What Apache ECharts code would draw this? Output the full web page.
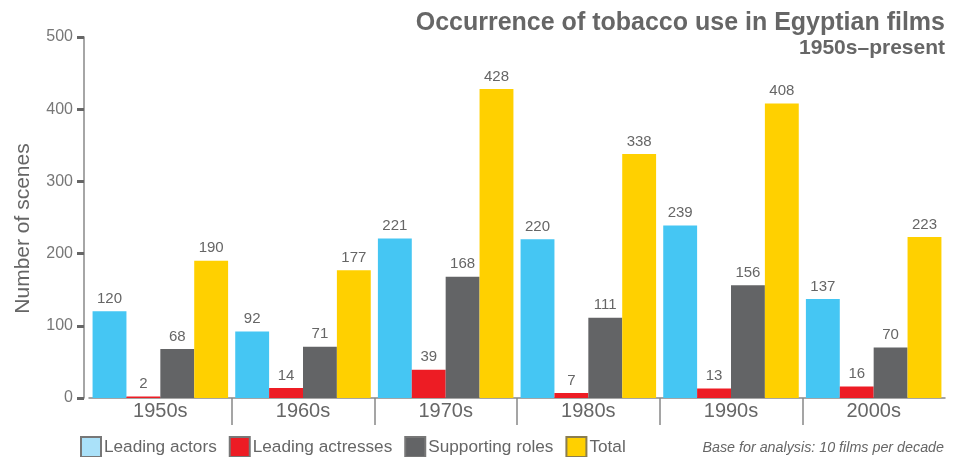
<!DOCTYPE html>
<html>
<head>
<meta charset="utf-8">
<script src="https://cdn.jsdelivr.net/npm/echarts@6/dist/echarts.min.js"></script>
<style>
  html, body { margin: 0; padding: 0; background: #fff; }
  #chart { width: 954px; height: 457px; }
</style>
</head>
<body>
<div id="chart"></div>
<script>
const decades = ['1950s', '1960s', '1970s', '1980s', '1990s', '2000s'];
const leadingActors = [120, 92, 221, 220, 239, 137];
const leadingActresses = [2, 14, 39, 7, 13, 16];
const supportingRoles = [68, 71, 168, 111, 156, 70];
const total = [190, 177, 428, 338, 408, 223];
const yTicks = { min: 0, max: 500, interval: 100 };

const textGrey = '#666';
const axisGrey = '#888';
const font = '"Liberation Sans", Arial, sans-serif';

const chart = echarts.init(document.getElementById('chart'));

const barSeries = (name, data, color) => ({
  name,
  type: 'bar',
  xAxisIndex: 0,
  barGap: 0,
  barCategoryGap: '5%',
  itemStyle: { color },
  label: {
    show: true,
    position: 'top',
    distance: 5,
    color: textGrey,
    fontSize: 15,
    fontFamily: font
  },
  data
});

chart.setOption({
  animation: false,
  textStyle: { fontFamily: font },
  title: [
    {
      text: '{a|Occurrence of tobacco use in Egyptian films}\n{b|1950s\u2013present}',
      right: 4,
      top: 5,
      textStyle: {
        fontWeight: 'bold',
        color: textGrey,
        fontFamily: font,
        rich: {
          a: { fontSize: 25, fontWeight: 'bold', color: textGrey, lineHeight: 27, align: 'right', fontFamily: font },
          b: { fontSize: 21, fontWeight: 'bold', color: textGrey, lineHeight: 23, align: 'right', fontFamily: font }
        }
      }
    },
    {
      text: 'Base for analysis: 10 films per decade',
      right: 5,
      top: 436,
      textStyle: {
        fontSize: 14.3,
        fontStyle: 'italic',
        fontWeight: 'normal',
        color: textGrey,
        fontFamily: font
      }
    }
  ],
  legend: {
    left: 75,
    top: 431,
    itemWidth: 20,
    itemHeight: 20,
    itemGap: 12,
    icon: 'rect',
    textStyle: { fontSize: 17.2, color: textGrey, fontFamily: font, padding: [0, 0, 0, -2] },
    data: [
      { name: 'Leading actors', itemStyle: { color: '#aae1f9', borderColor: '#777', borderWidth: 2 } },
      { name: 'Leading actresses', itemStyle: { color: '#ed1c24', borderColor: '#777', borderWidth: 2 } },
      { name: 'Supporting roles', itemStyle: { color: '#636466', borderColor: '#777', borderWidth: 2 } },
      { name: 'Total', itemStyle: { color: '#ffd000', borderColor: '#8a7d50', borderWidth: 2 } }
    ]
  },
  grid: { left: 89, right: 9, top: 37, bottom: 59 },
  xAxis: [
    {
      type: 'category',
      position: 'bottom',
      data: decades,
      axisLine: { lineStyle: { color: axisGrey, width: 1.5 } },
      axisTick: { show: false },
      axisLabel: { fontSize: 20, color: textGrey, margin: 3, fontFamily: font }
    },
    {
      // separator ticks between decades
      type: 'category',
      position: 'bottom',
      boundaryGap: false,
      data: ['0', '1', '2', '3', '4', '5', '6'],
      axisLine: { show: false },
      axisLabel: { show: false },
      axisTick: {
        show: true,
        length: 27,
        interval: (i) => i > 0 && i < 6,
        lineStyle: { color: axisGrey, width: 1.5 }
      }
    }
  ],
  yAxis: {
    type: 'value',
    min: yTicks.min,
    max: yTicks.max,
    interval: yTicks.interval,
    offset: 5,
    name: 'Number of scenes',
    nameLocation: 'middle',
    nameGap: 50,
    nameTextStyle: { fontSize: 21, color: textGrey, fontFamily: font, padding: [0, 0, 0, -22] },
    axisLine: { show: true, lineStyle: { color: axisGrey, width: 1.5 } },
    axisTick: { show: true, length: 7, lineStyle: { color: '#666', width: 3 } },
    axisLabel: { fontSize: 16, color: '#777', margin: 11, fontFamily: font },
    splitLine: { show: false }
  },
  series: [
    barSeries('Leading actors', leadingActors, '#45c6f3'),
    barSeries('Leading actresses', leadingActresses, '#ed1c24'),
    barSeries('Supporting roles', supportingRoles, '#636466'),
    barSeries('Total', total, '#ffd000')
  ]
});
</script>
</body>
</html>
